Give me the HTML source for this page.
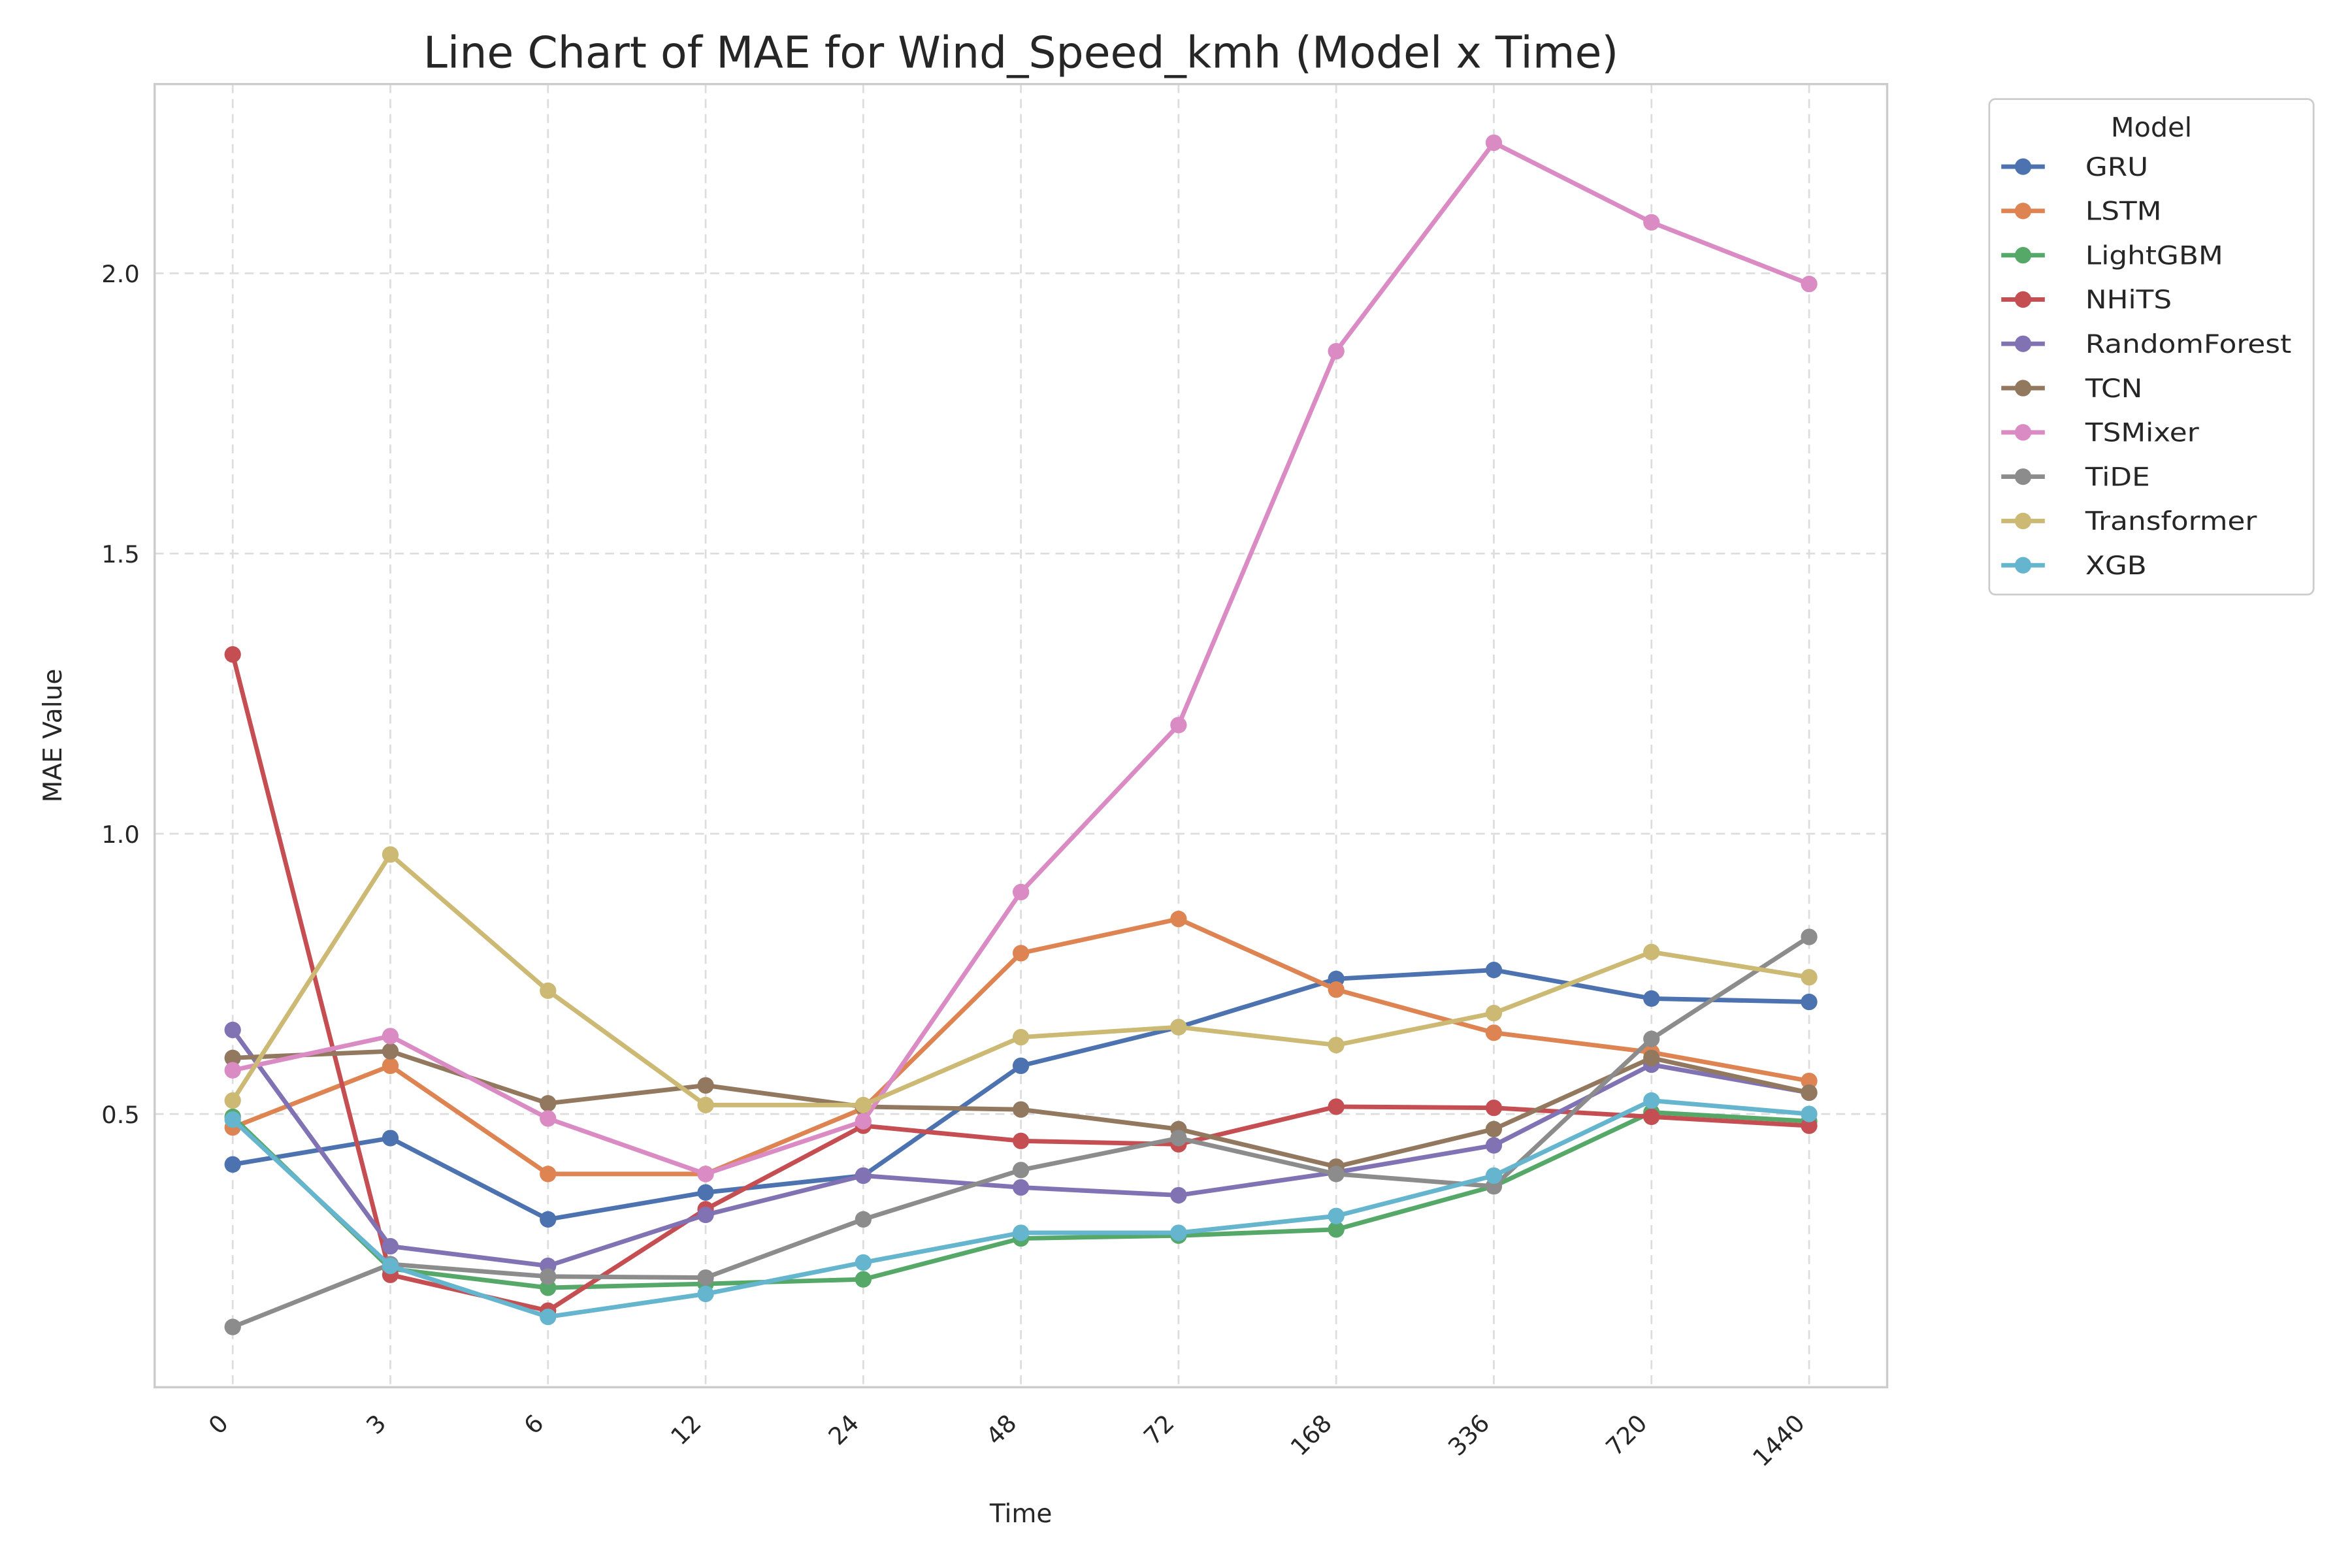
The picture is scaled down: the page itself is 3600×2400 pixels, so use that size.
<!DOCTYPE html>
<html><head><meta charset="utf-8"><style>
html,body{margin:0;padding:0;background:#fff;}
svg{display:block;font-family:"DejaVu Sans","Liberation Sans",sans-serif;}
</style></head><body>
<svg id="chart" width="3600" height="2400" viewBox="0 0 1566.6 1044.4" xmlns="http://www.w3.org/2000/svg">
<rect width="1570" height="1050" fill="#fff"/>
<text x="680" y="45" font-size="28.9" text-anchor="middle" fill="#262626">Line Chart of MAE for Wind_Speed_kmh (Model x Time)</text>
<g id="grid"></g>
<g id="axes"></g>
<g id="series"></g>
<rect x="103" y="56" width="1154" height="868" fill="none" stroke="#cccccc" stroke-width="1.5"/>
<text x="680" y="1014" font-size="17" text-anchor="middle" fill="#262626">Time</text>
<text transform="translate(41,490) rotate(-90)" font-size="17" text-anchor="middle" fill="#262626">MAE Value</text>
<g id="legend"></g>
</svg>
<script>
const categories = ["0","3","6","12","24","48","72","168","336","720","1440"];
const yTicks = [0.5, 1.0, 1.5, 2.0];
const yTickLabels = ["0.5","1.0","1.5","2.0"];
const modelNames = ["GRU","LSTM","LightGBM","NHiTS","RandomForest","TCN","TSMixer","TiDE","Transformer","XGB"];
const gru = [0.41,0.457,0.312,0.36,0.39,0.586,0.655,0.741,0.757,0.706,0.70];
const lstm = [0.476,0.586,0.393,0.393,0.51,0.787,0.848,0.722,0.645,0.61,0.559];
const lightgbm = [0.495,0.224,0.19,0.197,0.205,0.278,0.283,0.294,0.371,0.503,0.487];
const nhits = [1.32,0.213,0.149,0.33,0.479,0.452,0.446,0.513,0.511,0.495,0.479];
const randomforest = [0.65,0.264,0.229,0.32,0.39,0.369,0.355,0.396,0.444,0.588,0.538];
const tcn = [0.6,0.612,0.519,0.551,0.513,0.508,0.473,0.406,0.473,0.6,0.538];
const tsmixer = [0.578,0.639,0.492,0.393,0.487,0.896,1.194,1.861,2.233,2.091,1.981];
const tide = [0.12,0.232,0.21,0.208,0.312,0.4,0.457,0.393,0.371,0.634,0.816];
const transformer = [0.524,0.963,0.72,0.516,0.516,0.637,0.655,0.623,0.68,0.789,0.744];
const xgb = [0.49,0.229,0.138,0.179,0.235,0.288,0.288,0.318,0.39,0.524,0.5];
const seriesValues = [gru,lstm,lightgbm,nhits,randomforest,tcn,tsmixer,tide,transformer,xgb];
const colors = ["#4c72b0","#dd8452","#55a868","#c44e52","#8172b3","#937860","#da8bc3","#8c8c8c","#ccb974","#64b5cd"];

const NS="http://www.w3.org/2000/svg";
const X0=155, XSTEP=105, Y05=742, YPER=373.3, TOP=56, BOT=924, LEFT=103, RIGHT=1257;
function xScale(i){return X0+i*XSTEP;}
function yScale(v){return Y05-(v-0.5)*YPER;}
function mk(tag,attrs,parent){const e=document.createElementNS(NS,tag);for(const k in attrs)e.setAttribute(k,attrs[k]);parent.appendChild(e);return e;}
const grid=document.getElementById('grid'), axes=document.getElementById('axes'), ser=document.getElementById('series'), leg=document.getElementById('legend');

categories.forEach((c,i)=>{
  const x=xScale(i);
  const g=mk('line',{x1:x,x2:x,y1:TOP,y2:BOT,stroke:'#dddddd','stroke-width':1.2,'stroke-dasharray':'6,4'},grid);
  
  
  const t=mk('text',{x:0,y:0,'font-size':16,'text-anchor':'end',fill:'#262626',transform:`translate(${x-2},${BOT+25}) rotate(-45)`},axes);
  t.textContent=c;
  
  
});
yTicks.forEach((v,i)=>{
  const y=yScale(v);
  const g=mk('line',{x1:LEFT,x2:RIGHT,y1:y,y2:y,stroke:'#dddddd','stroke-width':1.2,'stroke-dasharray':'6,4'},grid);
  
  
  const t=mk('text',{x:LEFT-10,y:y+6,'font-size':16,'text-anchor':'end',fill:'#262626'},axes);
  t.textContent=yTickLabels[i];
  
  
});
seriesValues.forEach((vals,s)=>{
  const g=mk('g',{},ser);
  
  
  const pts=vals.map((v,i)=>xScale(i)+','+yScale(v)).join(' ');
  const pl=mk('polyline',{points:pts,fill:'none',stroke:colors[s],'stroke-width':3,'stroke-linejoin':'round'},g);
  
  
  vals.forEach((v,i)=>{
    const c=mk('circle',{cx:xScale(i),cy:yScale(v),r:5.5,fill:colors[s]},g);
    
    
  });
});
const box=mk('rect',{x:1325,y:66,width:216,height:330,rx:4,fill:'#fff',stroke:'#cccccc','stroke-width':1.2},leg);


const lt=mk('text',{x:1433,y:91,'font-size':18,'text-anchor':'middle',fill:'#262626'},leg);
lt.textContent='Model';


modelNames.forEach((n,s)=>{
  const y=111+s*29.5;
  const g=mk('g',{},leg);
  
  
  mk('line',{x1:1333,x2:1362,y1:y,y2:y,stroke:colors[s],'stroke-width':3},g);
  mk('circle',{cx:1347.5,cy:y,r:5.5,fill:colors[s]},g);
  const t=mk('text',{x:0,y:0,'font-size':17,fill:'#262626',transform:`translate(1389,${y+6}) scale(1.12,1)`},g);
  t.textContent=n;
});
</script>
</body></html>
